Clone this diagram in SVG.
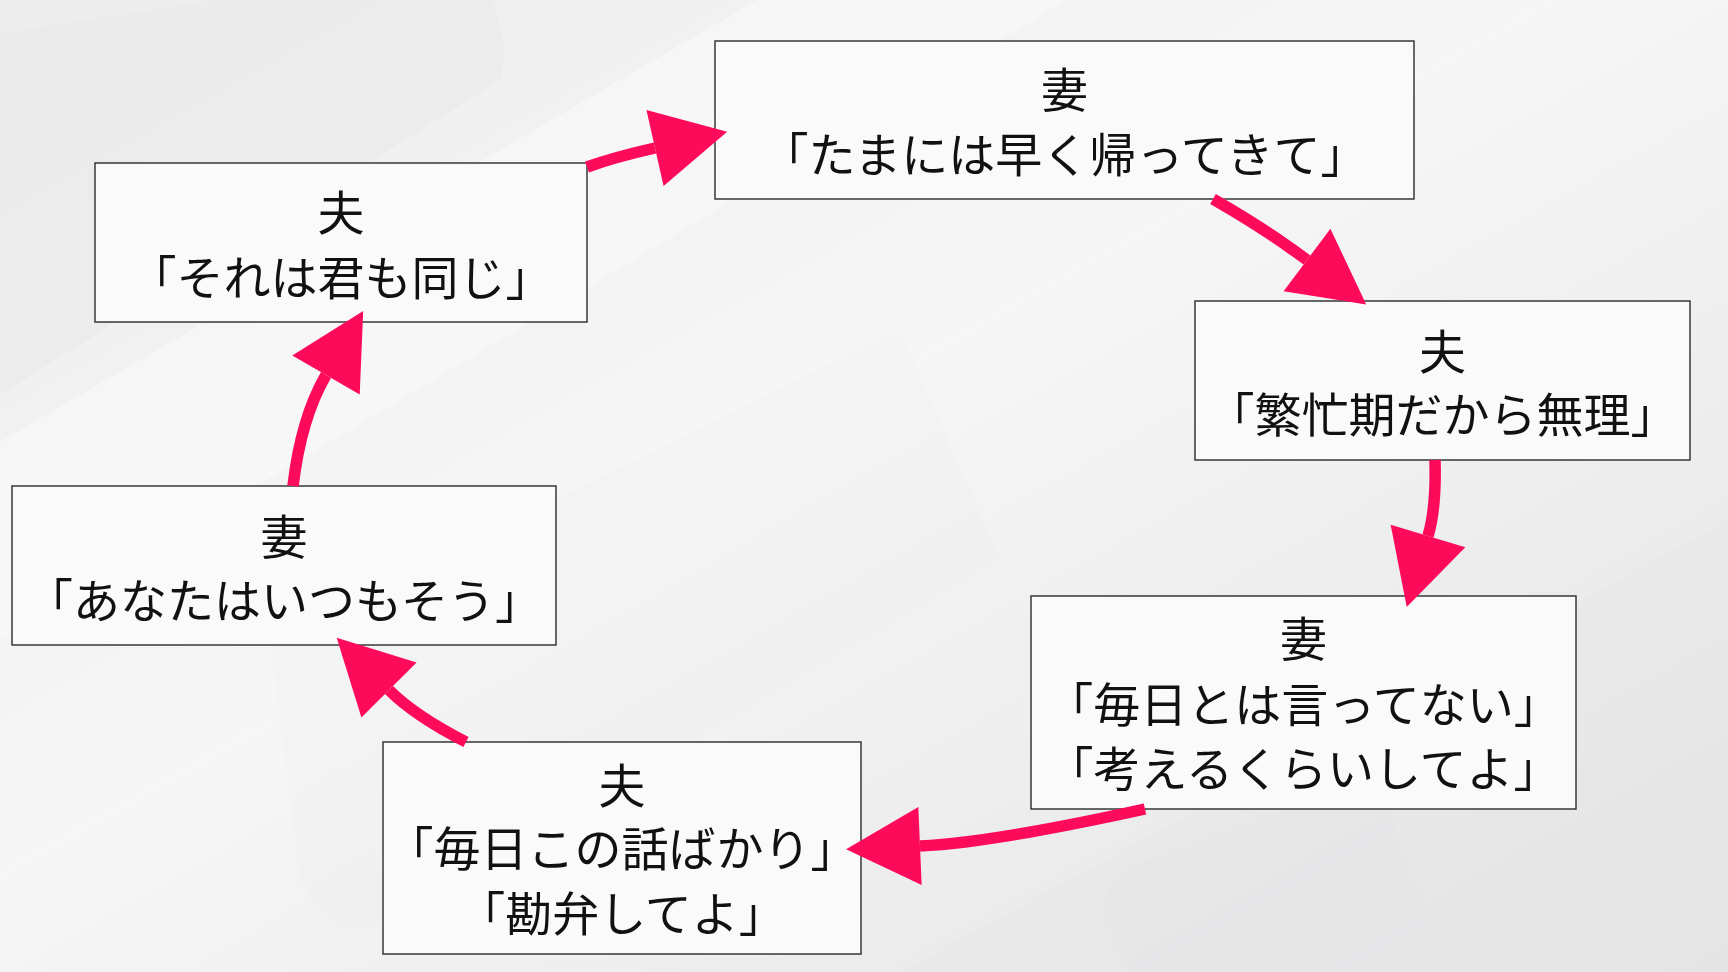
<svg xmlns="http://www.w3.org/2000/svg" width="1728" height="972" viewBox="0 0 1728 972">
<defs>
<linearGradient id="bg" x1="0" y1="0" x2="1" y2="1">
<stop offset="0" stop-color="#ececed"/>
<stop offset="0.45" stop-color="#f6f6f7"/>
<stop offset="1" stop-color="#e3e3e4"/>
</linearGradient>
<marker id="head" markerUnits="userSpaceOnUse" viewBox="0 -40 76 80" markerWidth="76" markerHeight="80" refX="0" refY="0" orient="auto" overflow="visible">
<path d="M0,-39 L74,0 L0,39 Z" fill="#fe0a5a"/>
</marker>
<style>
.box{fill:#fafafa;stroke:#2a2a2a;stroke-width:1.4}
.t{font-family:"Noto Sans CJK JP","Noto Sans CJK SC",sans-serif;font-size:47px;fill:#111;text-anchor:middle}
.c{fill:none;stroke:#fe0a5a;stroke-width:11.5;marker-end:url(#head)}
</style>
</defs>
<rect width="1728" height="972" fill="url(#bg)"/>
<g id="background" opacity="0.6">
<path d="M-40,40 L470,-40 Q515,30 500,80 L-40,420 Z" fill="#e9e9ea"/>
<path d="M-100,500 L1100,-200 L1400,-200 L-100,700 Z" fill="#fbfbfb"/>
<path d="M270,640 L900,330 L1000,560 L370,930 Q330,940 300,880 Z" fill="#ececed" opacity="0.35"/>
<rect x="1130" y="820" width="300" height="260" rx="40" transform="rotate(-20 1280 950)" fill="#dedee0" opacity="0.6"/>
<path d="M900,972 L1728,520 L1728,972 Z" fill="#e6e6e7" opacity="0.6"/>
</g>
<g id="nodeA">
<rect class="box" x="715" y="41" width="699" height="158"/>
<text class="t" x="1064.5" y="107">妻</text>
<text class="t" x="1064.5" y="172">「たまには早く帰ってきて」</text>
</g>
<g id="nodeB">
<rect class="box" x="1195" y="301" width="495" height="159"/>
<text class="t" x="1442.5" y="369">夫</text>
<text class="t" x="1442.5" y="432">「繁忙期だから無理」</text>
</g>
<g id="nodeC">
<rect class="box" x="1031" y="596" width="545" height="213"/>
<text class="t" x="1303.5" y="656">妻</text>
<text class="t" x="1303.5" y="722">「毎日とは言ってない」</text>
<text class="t" x="1303.5" y="786">「考えるくらいしてよ」</text>
</g>
<g id="nodeD">
<rect class="box" x="383" y="742" width="478" height="212"/>
<text class="t" x="622" y="803">夫</text>
<text class="t" x="622" y="866">「毎日この話ばかり」</text>
<text class="t" x="622" y="931">「勘弁してよ」</text>
</g>
<g id="nodeE">
<rect class="box" x="12" y="486" width="544" height="159"/>
<text class="t" x="284" y="554">妻</text>
<text class="t" x="284" y="618">「あなたはいつもそう」</text>
</g>
<g id="nodeF">
<rect class="box" x="95" y="163" width="492" height="159"/>
<text class="t" x="341" y="230">夫</text>
<text class="t" x="341" y="295">「それは君も同じ」</text>
</g>
<g id="connectors">
<path class="c" d="M587,167 Q615,157 655,148"/>
<path class="c" d="M1213,199 Q1267,230 1307,260"/>
<path class="c" d="M1435,460 C1436,495 1434,516 1428,536"/>
<path class="c" d="M1145,809 Q990,843 920,846"/>
<path class="c" d="M466,742 Q415,716 389,690"/>
<path class="c" d="M293,486 Q301,418 326,375"/>
</g>
</svg>
